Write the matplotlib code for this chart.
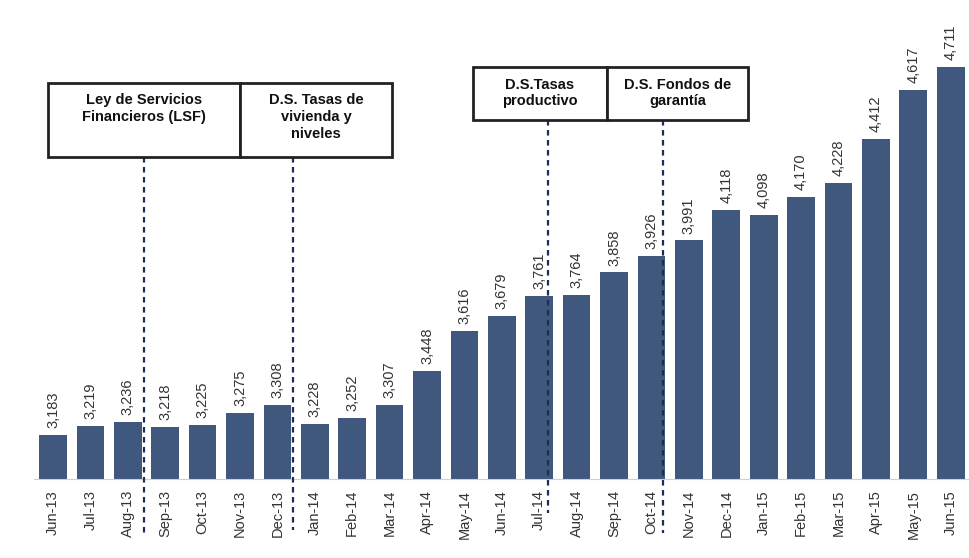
import matplotlib.pyplot as plt
import matplotlib.transforms as mtransforms
from matplotlib.patches import Rectangle

plt.rcParams['font.family'] = ['Liberation Sans', 'DejaVu Sans']

months = ['Jun-13', 'Jul-13', 'Aug-13', 'Sep-13', 'Oct-13', 'Nov-13', 'Dec-13',
          'Jan-14', 'Feb-14', 'Mar-14', 'Apr-14', 'May-14', 'Jun-14', 'Jul-14',
          'Aug-14', 'Sep-14', 'Oct-14', 'Nov-14', 'Dec-14', 'Jan-15', 'Feb-15',
          'Mar-15', 'Apr-15', 'May-15', 'Jun-15']
values = [3183, 3219, 3236, 3218, 3225, 3275, 3308, 3228, 3252, 3307, 3448,
          3616, 3679, 3761, 3764, 3858, 3926, 3991, 4118, 4098, 4170, 4228,
          4412, 4617, 4711]

# event markers: line position (bar index), box x-range, box y-range (axes frac), text
event_x = [2.43, 6.42, 13.23, 16.3]
event_text = ['Ley de Servicios\nFinancieros (LSF)',
              'D.S. Tasas de\nvivienda y\nniveles',
              'D.S.Tasas\nproductivo',
              'D.S. Fondos de\ngarantía']
box_x = [(-0.13, 5.0), (5.0, 9.06), (11.23, 14.81), (14.81, 18.58)]
box_y = [(0.672, 0.827), (0.672, 0.827), (0.749, 0.860), (0.749, 0.860)]
line_end = [-0.117, -0.107, -0.07, -0.113]

bar_color = '#40587e'
line_color = '#1e2d55'

fig = plt.figure(figsize=(9.69, 5.58), dpi=100)
ax = fig.add_axes([0.0354, 0.1416, 0.965, 0.8584])

x = list(range(len(months)))
bars = ax.bar(x, values, width=0.74, color=bar_color, zorder=2)
for xi, v in zip(x, values):
    ax.annotate(f'{v:,}', (xi, v), xytext=(0, 5), textcoords='offset points',
                rotation=90, ha='center', va='bottom', fontsize=10.5, color='#333333')

ax.set_xlim(-0.5, 24.5)
ax.set_ylim(3000, 4990)
ax.set_xticks(x)
ax.set_xticklabels(months, rotation=90, fontsize=10.5, color='#333333')
ax.tick_params(axis='x', length=0, pad=8)
ax.set_yticks([])
for s in ['top', 'right', 'left']:
    ax.spines[s].set_visible(False)
ax.spines['bottom'].set_color('#d0d0d0')

trans = mtransforms.blended_transform_factory(ax.transData, ax.transAxes)
for ex, txt, (x0, x1), (y0, y1), yend in zip(event_x, event_text, box_x, box_y, line_end):
    ax.plot([ex, ex], [y0, yend], transform=trans, color=line_color,
            linestyle=(0, (2.5, 2)), linewidth=1.6, clip_on=False, zorder=3)
    ax.add_patch(Rectangle((x0, y0), x1 - x0, y1 - y0, transform=trans,
                           facecolor='white', edgecolor='#222222', linewidth=2,
                           clip_on=False, zorder=4))
    ax.text((x0 + x1) / 2, y1 - 0.022, txt, transform=trans, ha='center', va='top',
            fontsize=10.5, fontweight='bold', color='#111111', linespacing=1.25,
            zorder=5)

fig.savefig('out.png', dpi=100)
